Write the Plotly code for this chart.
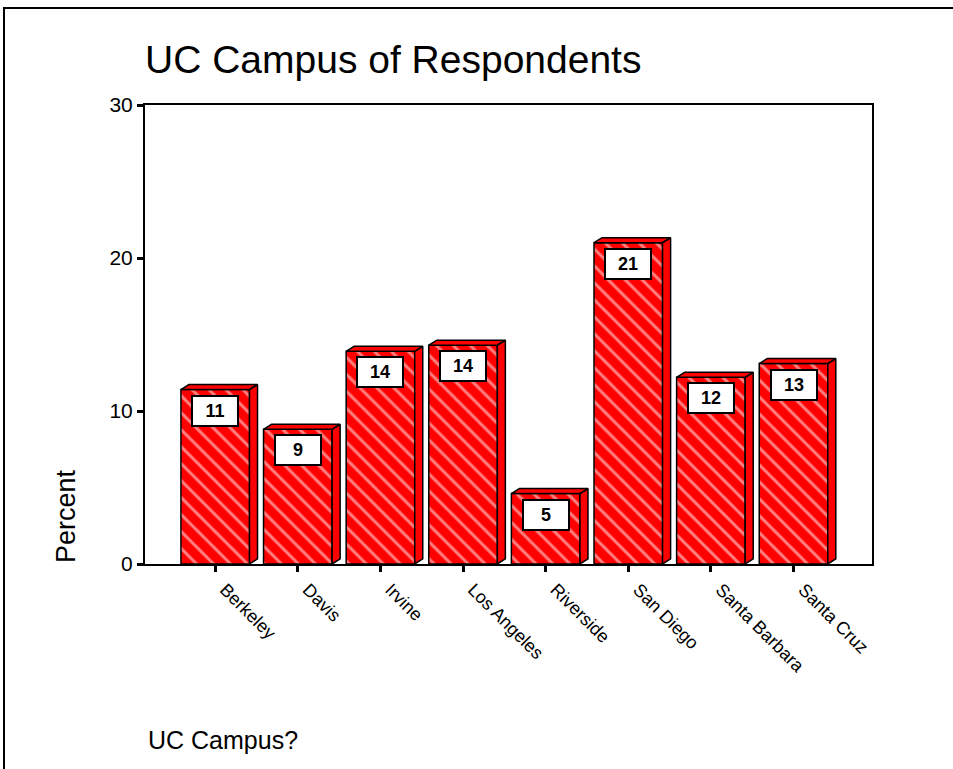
"""
UC Campus of Respondents - SPSS style 3D hatched bar chart
"""

import plotly.graph_objects as go

# Data
campuses = [
    "Berkeley",
    "Davis",
    "Irvine",
    "Los Angeles",
    "Riverside",
    "San Diego",
    "Santa Barbara",
    "Santa Cruz",
]
percents = [11.4, 8.8, 13.9, 14.3, 4.6, 21.0, 12.2, 13.1]
y_ticks = [0, 10, 20, 30]

RED = "#FF0000"
BAR_W = 0.83
DX = 0.097  # depth of 3D side, x data units
DY = 0.33  # depth of 3D top, y data units

# plot area in pixels (left, right, top, bottom)
PL, PR, PT, PB = 145, 872, 105, 564
W, H = 953, 769


def px_x(p):
    return (p - PL) / (PR - PL)


def px_y(p):
    return (PB - p) / (PB - PT)


x_pos = list(range(len(campuses)))

fig = go.Figure()

# Front faces (hatched)
fig.add_trace(
    go.Bar(
        x=x_pos,
        y=percents,
        width=BAR_W,
        marker=dict(
            color=RED,
            line=dict(color="black", width=1.5),
            pattern=dict(shape="\\", fgcolor="white", bgcolor=RED, size=12, solidity=0.25),
        ),
        hoverinfo="skip",
        showlegend=False,
    )
)

# 3D side and top faces
sx, sy = [], []
for x, v in zip(x_pos, percents):
    xl, xr = x - BAR_W / 2, x + BAR_W / 2
    # side
    sx += [xr, xr + DX, xr + DX, xr, xr, None]
    sy += [0, DY, v + DY, v, 0, None]
    # top
    sx += [xl, xl + DX, xr + DX, xr, xl, None]
    sy += [v, v + DY, v + DY, v, v, None]

fig.add_trace(
    go.Scatter(
        x=sx,
        y=sy,
        mode="lines",
        fill="toself",
        fillcolor=RED,
        line=dict(color="black", width=1.5),
        hoverinfo="skip",
        showlegend=False,
    )
)

# Value labels in white boxes
for x, v in zip(x_pos, percents):
    fig.add_annotation(
        x=x,
        y=v,
        text=f"<b>{v:.0f}</b>",
        showarrow=False,
        yanchor="top",
        yshift=-5,
        width=42,
        height=26,
        bgcolor="white",
        bordercolor="black",
        borderwidth=2,
        borderpad=1,
        font=dict(family="Arial", size=18, color="black"),
    )

# Axis titles / captions
fig.add_annotation(
    text="Percent",
    textangle=-90,
    xref="paper",
    yref="paper",
    x=px_x(66),
    y=px_y(516),
    xanchor="center",
    yanchor="middle",
    showarrow=False,
    font=dict(family="Arial", size=27, color="black"),
)
fig.add_annotation(
    text="UC Campus?",
    xref="paper",
    yref="paper",
    x=px_x(146),
    y=px_y(740),
    xanchor="left",
    yanchor="middle",
    showarrow=False,
    font=dict(family="Arial", size=25, color="black"),
)

# Outer frame (left and top edges)
fig.add_shape(
    type="path",
    xref="paper",
    yref="paper",
    path=f"M {px_x(4)} {px_y(820)} L {px_x(4)} {px_y(8)} L {px_x(1000)} {px_y(8)}",
    line=dict(color="black", width=2),
)

fig.update_layout(
    title=dict(
        text="UC Campus of Respondents",
        font=dict(family="Arial", size=39, color="black"),
        x=145 / W,
        xanchor="left",
        xref="container",
        y=1 - 59 / H,
        yanchor="middle",
        yref="container",
    ),
    width=W,
    height=H,
    margin=dict(l=PL, r=W - PR, t=PT, b=H - PB),
    plot_bgcolor="white",
    paper_bgcolor="white",
    font=dict(family="Arial", color="black"),
    showlegend=False,
    xaxis=dict(
        range=[-0.85, 7.95],
        tickvals=x_pos,
        ticktext=campuses,
        tickangle=45,
        ticks="outside",
        ticklen=6,
        tickwidth=3,
        tickcolor="black",
        ticklabelshift=10,
        tickfont=dict(family="Arial", size=18, color="black"),
        showline=True,
        linecolor="black",
        linewidth=2,
        mirror=True,
        showgrid=False,
        zeroline=False,
    ),
    yaxis=dict(
        range=[0, 30],
        tickvals=y_ticks,
        ticks="outside",
        ticklen=6,
        tickwidth=3,
        tickcolor="black",
        tickfont=dict(family="Arial", size=21, color="black"),
        showline=True,
        linecolor="black",
        linewidth=2,
        mirror=True,
        showgrid=False,
        zeroline=False,
    ),
)

# page body has an 8px default margin; drop it so the figure sits at the window corner
fig.write_html(
    "out.html",
    config={"displayModeBar": False},
    post_script="document.body.style.margin='0px';",
)
